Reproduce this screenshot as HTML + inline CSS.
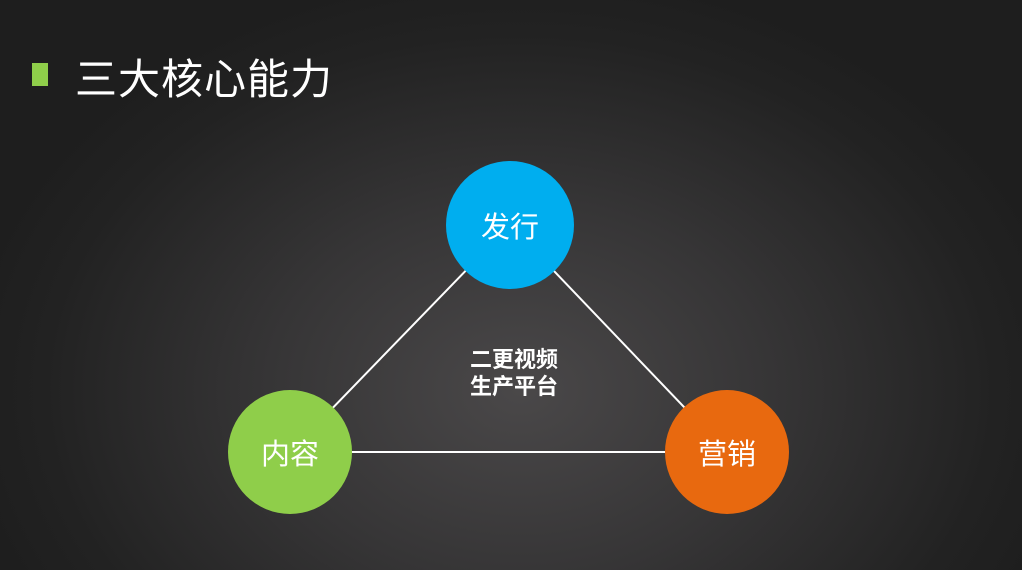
<!DOCTYPE html>
<html><head><meta charset="utf-8"><style>
html,body{margin:0;padding:0}
body{width:1022px;height:570px;overflow:hidden;position:relative;
background:radial-gradient(ellipse 560px 420px at 520px 390px,#4a4849 0%,#363536 45%,#222222 85%,#1e1e1e 100%);
font-family:"Liberation Sans","Noto Sans CJK SC",sans-serif;}
.sq{position:absolute;left:32px;top:63px;width:16px;height:23px;background:#8fce4a}
.title{position:absolute;left:75px;top:55px;font-size:42px;color:#fff;line-height:50px;letter-spacing:1px}
svg{position:absolute;left:0;top:0}
.c{position:absolute;border-radius:50%;color:#fff;font-size:29px;display:flex;align-items:center;justify-content:center}
.mid{position:absolute;left:439px;top:346px;width:150px;text-align:center;color:#fff;font-weight:bold;font-size:22px;line-height:27px}
</style></head><body>
<div class="sq"></div>
<div class="title">三大核心能力</div>
<svg width="1022" height="570">
<line x1="510" y1="225" x2="290" y2="452" stroke="#fff" stroke-width="2"/>
<line x1="510" y1="225" x2="727" y2="452" stroke="#fff" stroke-width="2"/>
<line x1="290" y1="452" x2="727" y2="452" stroke="#fff" stroke-width="2"/>
</svg>
<div class="c" style="left:446px;top:161px;width:128px;height:128px;background:#00aeef">发行</div>
<div class="c" style="left:228px;top:390px;width:124px;height:124px;background:#8fce4a">内容</div>
<div class="c" style="left:665px;top:390px;width:124px;height:124px;background:#e8690f">营销</div>
<div class="mid">二更视频<br>生产平台</div>
</body></html>
